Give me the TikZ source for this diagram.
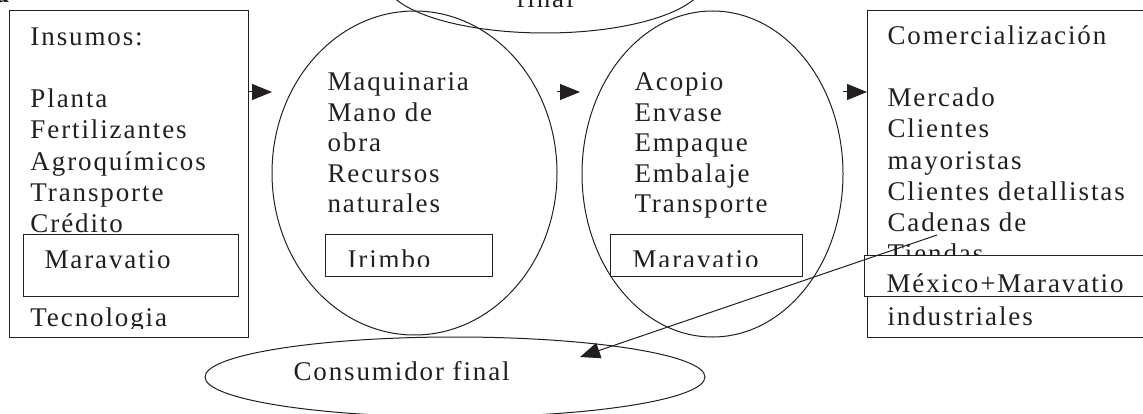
\documentclass[tikz,border=0pt]{standalone}
\usepackage{fontspec}
\setmainfont[LetterSpace=7]{Liberation Serif}
\usetikzlibrary{arrows.meta,shapes.geometric}
\definecolor{ink}{HTML}{231F20}

\begin{document}
\begin{tikzpicture}[
    x=1pt, y=-1pt,
    color=ink,
    line width=1pt,
    font=\fontsize{27}{31.2}\selectfont,
    frame/.style={draw, rectangle, anchor=north west, inner sep=0pt, outer sep=0pt},
    tag/.style={frame, fill=white},
    bubble/.style={draw, ellipse, inner sep=0pt, outer sep=0pt},
    body/.style={anchor=base west, align=left, inner sep=0pt},
    arrow/.style={-{Triangle[length=20pt, width=16pt]}, line width=1pt}
]

\useasboundingbox (0,0) rectangle (1143,414);
\clip (0,0) rectangle (1143,414);

\node[body, font=\fontsize{27}{31.2}\selectfont\bfseries] (stray) at (-5,3) {a};

% insumos
\node[frame, minimum width=239pt, minimum height=326pt] (insumos) at (9,11) {};
\begin{scope}
  \clip (9,11) rectangle (248,328);
  \node[body] (insumostxt) at (30,326) {Insumos:\\ \mbox{}\\ Planta\\ Fertilizantes\\
    Agroquímicos\\ Transporte\\ Crédito\\ \mbox{}\\ \mbox{}\\ Tecnologia};
\end{scope}
\node[tag, minimum width=215pt, minimum height=61pt] (maravatioA) at (23,235) {};
\node[body] (maravatioAtxt) at (44,268) {Maravatio};

% produccion
\node[bubble, minimum width=285pt, minimum height=324pt] (maquinaria) at (414.5,173) {};
\node[body, font=\fontsize{27}{30.6}\selectfont] (maquinariatxt) at (327,213)
    {Maquinaria\\ Mano de\\ obra\\ Recursos\\ naturales};
\node[frame, minimum width=167pt, minimum height=41pt] (irimbo) at (325,235) {};
\begin{scope}
  \clip (325,235) rectangle (492,266.5);
  \node[body] (irimbotxt) at (347,269) {Irimbo};
\end{scope}

% acopio
\node[bubble, minimum width=261pt, minimum height=326pt] (acopio) at (712.5,174) {};
\node[body, font=\fontsize{27}{30.6}\selectfont] (acopiotxt) at (634,213)
    {Acopio\\ Envase\\ Empaque\\ Embalaje\\ Transporte};
\node[frame, minimum width=192pt, minimum height=41pt] (maravatioB) at (610,235) {};
\begin{scope}
  \clip (610,235) rectangle (802,266.5);
  \node[body] (maravatioBtxt) at (632,269) {Maravatio};
\end{scope}

% comercializacion
\node[frame, minimum width=300pt, minimum height=326pt] (comercio) at (867,11) {};
\node[body] (comerciotxt) at (887,325) {Comercialización\\ \mbox{}\\ Mercado\\ Clientes\\
    mayoristas\\ Clientes detallistas\\ Cadenas de\\ Tiendas\\ \mbox{}\\ industriales};
\node[tag, minimum width=300pt, minimum height=41pt] (mexico) at (864,255) {};
\begin{scope}
  \clip (864,255) rectangle (1170,292.5);
  \node[body] (mexicotxt) at (886,292) {México+Maravatio};
\end{scope}

% consumidor
\node[bubble, minimum width=320pt, minimum height=106pt] (consumoA) at (545,-20) {};
\node[anchor=base, inner sep=0pt] (consumoAtxt) at (545,8) {final};
\node[bubble, minimum width=500pt, minimum height=80pt] (consumoB) at (455,377) {};
\node[body] (consumoBtxt) at (293,380) {Consumidor final};

% flechas
\coordinate (fila) at (0,92);
\coordinate (origen) at (937,235);
\coordinate (destino) at (580,357);
\draw[arrow] (insumos.east |- fila) -- (maquinaria.west |- fila);
\draw[arrow] (maquinaria.east |- fila) -- ([xshift=-2pt]acopio.west |- fila);
\draw[arrow] (acopio.east |- fila) -- (comercio.west |- fila);
\draw[arrow] (origen) -- (destino);

\end{tikzpicture}
\end{document}
